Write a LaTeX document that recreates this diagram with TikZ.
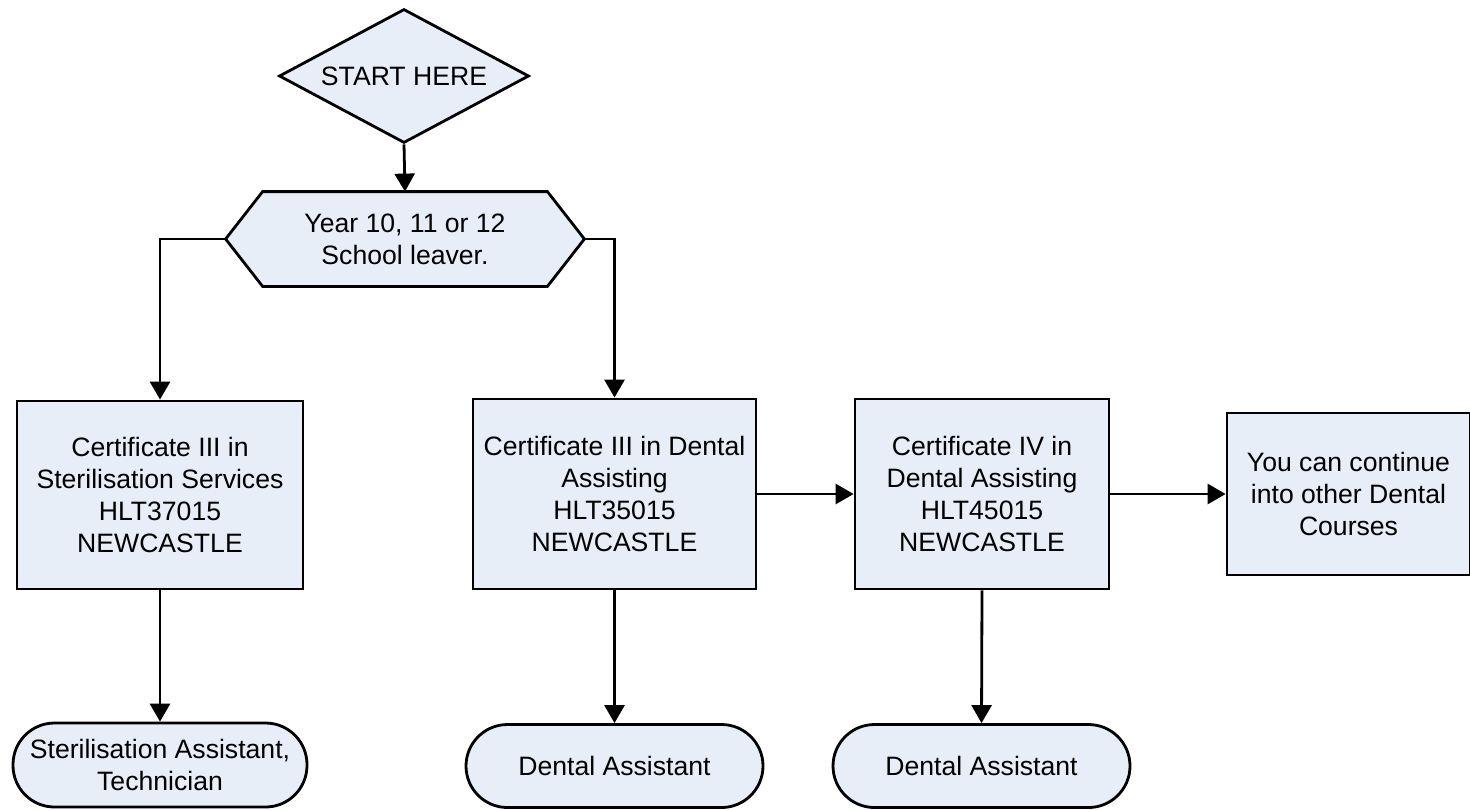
\documentclass[tikz,border=0pt]{standalone}
\usepackage{fontspec}
\setmainfont{Liberation Sans}
\usetikzlibrary{shapes.geometric,arrows.meta,calc}
\definecolor{boxfill}{HTML}{E8EEF7}
\begin{document}
\begin{tikzpicture}[x=0.5pt,y=-0.5pt,
  every node/.style={font=\fontsize{13.3pt}{16pt}\selectfont, align=center, inner sep=0pt},
  shapebox/.style={draw=black, line width=1.4pt, fill=boxfill, rectangle},
  term/.style={draw=black, line width=1.4pt, fill=boxfill, rectangle, rounded corners=20.75pt, minimum height=41.5pt},
  conn/.style={line width=1.4pt, draw=black},
  arr/.style={conn, -{Triangle[width=10pt,length=9pt]}}]
\useasboundingbox (0,0) rectangle (1470,809);

% start diamond
\node[diamond, draw=black, line width=1.4pt, fill=boxfill, minimum width=125pt, minimum height=67pt, aspect=1.866] (start) at (404,76) {START HERE};

% hexagon
\node[minimum width=179pt, minimum height=47pt] (school) at (405,239) {};
\draw[line width=1.4pt, fill=boxfill]
  (school.west) -- ($(school.north west)+(37,0)$) -- ($(school.north east)+(-37,0)$)
  -- (school.east) -- ($(school.south east)+(-37,0)$) -- ($(school.south west)+(37,0)$) -- cycle;
\node at (school.center) {Year 10, 11 or 12\\School leaver.};

% certificate boxes
\node[shapebox, minimum width=143pt, minimum height=94pt] (c1) at (160,495)
  {Certificate III in\\Sterilisation Services\\HLT37015\\NEWCASTLE};
\node[shapebox, minimum width=141.5pt, minimum height=95pt] (c2) at (614.5,494)
  {Certificate III in Dental\\Assisting\\HLT35015\\NEWCASTLE};
\node[shapebox, minimum width=127pt, minimum height=95pt] (c3) at (982,494)
  {Certificate IV in\\Dental Assisting\\HLT45015\\NEWCASTLE};
\node[shapebox, minimum width=121.5pt, minimum height=81pt] (c4) at (1348.5,494)
  {You can continue\\into other Dental\\Courses};

% terminals
\node[term, minimum width=147pt, minimum height=42pt] (t1) at (160,765)
  {Sterilisation Assistant,\\Technician};
\node[term, minimum width=148.5pt] (t2) at (614.5,766) {Dental Assistant};
\node[term, minimum width=148.5pt] (t3) at (981.5,766) {Dental Assistant};

% connectors
\draw[arr] (start.south) -- (school.north);
\draw[arr] (school.west) -| (c1.north);
\draw[arr] (school.east) -| (c2.north);
\draw[arr] (c2.east) -- (c3.west);
\draw[arr] (c3.east) -- (c4.west);
\draw[arr] (c1.south) -- (t1.north);
\draw[arr] (c2.south) -- (t2.north);
\draw[arr] (c3.south) -- (t3.north);
\end{tikzpicture}
\end{document}
